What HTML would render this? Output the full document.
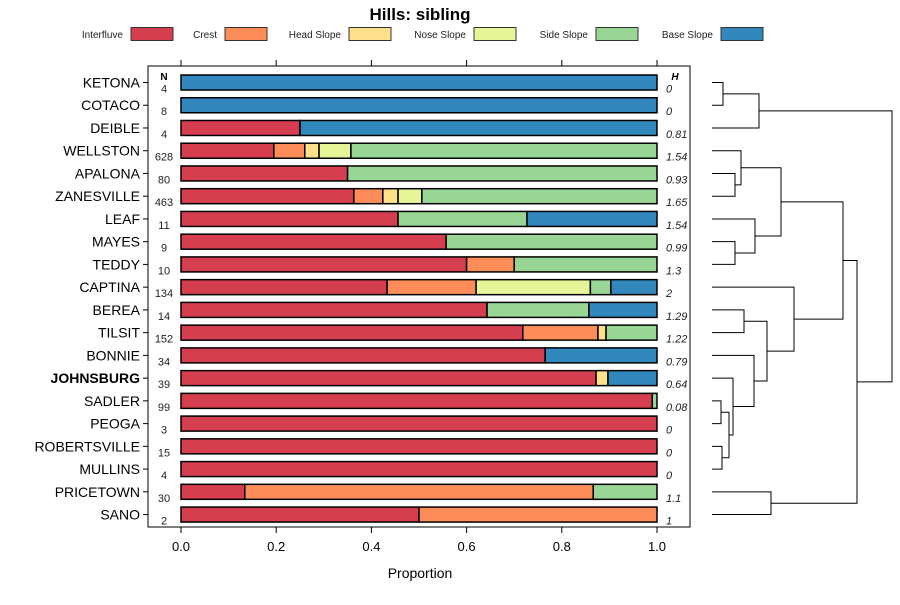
<!DOCTYPE html>
<html><head><meta charset="utf-8"><style>
body{margin:0;background:#fff;}
svg text{font-family:"Liberation Sans",sans-serif;}
</style></head><body>
<svg id="chart" width="900" height="600" xmlns="http://www.w3.org/2000/svg"></svg>
<script>
const categories = ["KETONA","COTACO","DEIBLE","WELLSTON","APALONA","ZANESVILLE","LEAF","MAYES","TEDDY","CAPTINA","BEREA","TILSIT","BONNIE","JOHNSBURG","SADLER","PEOGA","ROBERTSVILLE","MULLINS","PRICETOWN","SANO"];
const seriesNames = ["Interfluve","Crest","Head Slope","Nose Slope","Side Slope","Base Slope"];
const interfluve = [0,0,0.25,0.195,0.35,0.363,0.456,0.557,0.6,0.433,0.643,0.718,0.765,0.872,0.99,1,1,1,0.134,0.5];
const crest      = [0,0,0,0.065,0,0.061,0,0,0.1,0.187,0,0.158,0,0,0,0,0,0,0.732,0.5];
const headSlope  = [0,0,0,0.03,0,0.032,0,0,0,0,0,0.017,0,0.025,0,0,0,0,0,0];
const noseSlope  = [0,0,0,0.067,0,0.05,0,0,0,0.24,0,0,0,0,0,0,0,0,0,0];
const sideSlope  = [0,0,0,0.643,0.65,0.494,0.271,0.443,0.3,0.043,0.214,0.107,0,0,0.01,0,0,0,0.134,0];
const baseSlope  = [1,1,0.75,0,0,0,0.273,0,0,0.097,0.143,0,0.235,0.103,0,0,0,0,0,0];
const nValues = [4,8,4,628,80,463,11,9,10,134,14,152,34,39,99,3,15,4,30,2];
const hValues = ["0","0","0.81","1.54","0.93","1.65","1.54","0.99","1.3","2","1.29","1.22","0.79","0.64","0.08","0","0","0","1.1","1"];
const xTicks = [0,0.2,0.4,0.6,0.8,1.0];
const xTickLabels = ["0.0","0.2","0.4","0.6","0.8","1.0"];
const colors = ["#D53E4F","#FC8D59","#FEE08B","#E6F598","#99D594","#3288BD"];
// dendrogram nodes: [left, right, mergeX]
const upperGroup = [[0,1,723],2,759];
const wellGroup = [3,[4,5,735],741];
const leafGroup = [6,[7,8,735],755];
const group1 = [wellGroup, leafGroup, 781];
const johnsGroup = [13, [[14,15,721],[16,17,722],729], 733];
const bonnieGroup = [12, johnsGroup, 754];
const bereaGroup = [[10,11,744], bonnieGroup, 767];
const captinaGroup = [9, bereaGroup, 794];
const group2 = [group1, captinaGroup, 843];
const group3 = [group2, [18,19,771], 857];
const tree = [upperGroup, group3, 892];

const svg = document.getElementById('chart');
const NS = "http://www.w3.org/2000/svg";
function mk(tag, attrs, parent){const e=document.createElementNS(NS,tag);for(const k in attrs)e.setAttribute(k,attrs[k]);(parent||svg).appendChild(e);return e;}
const X0=181, X1=657;
const xs = v => X0 + v*(X1-X0);
const rowY = i => 82.5 + i*22.74;

const title = mk('text',{x:420,y:20,'text-anchor':'middle','font-size':17,'font-weight':'bold'});


title.textContent="Hills: sibling";

const legX=[123,217,341,466,588,713];
seriesNames.forEach((s,i)=>{
  const g=mk('g',{});
  
  
  const tt=mk('text',{x:legX[i],y:38,'text-anchor':'end','font-size':10,fill:'#222'},g);
  tt.textContent=s;
  mk('rect',{x:legX[i]+8,y:27.5,width:42,height:13,fill:colors[i],stroke:'#333','stroke-width':1},g);
});

const panel=mk('rect',{x:148,y:66,width:542,height:461,fill:'none',stroke:'#000','stroke-width':1});



xTicks.forEach((v,i)=>{
  mk('line',{x1:xs(v),x2:xs(v),y1:527,y2:533,stroke:'#000'});
  mk('line',{x1:xs(v),x2:xs(v),y1:60,y2:66,stroke:'#000'});
  const l=mk('text',{x:xs(v),y:551,'text-anchor':'middle','font-size':13});
  
  
  l.textContent=xTickLabels[i];
});
const xt=mk('text',{x:420,y:578,'text-anchor':'middle','font-size':14});


xt.textContent="Proportion";

const nh=mk('text',{x:164,y:80,'text-anchor':'middle','font-size':10,'font-weight':'bold'});
nh.textContent="N";


const hh=mk('text',{x:675,y:80,'text-anchor':'middle','font-size':10,'font-weight':'bold','font-style':'italic'});
hh.textContent="H";



const series=[interfluve,crest,headSlope,noseSlope,sideSlope,baseSlope];
categories.forEach((c,i)=>{
  const y=rowY(i);
  mk('line',{x1:143,x2:148,y1:y,y2:y,stroke:'#000'});
  const lab=mk('text',{x:140,y:y+5,'text-anchor':'end','font-size':14,'font-weight':c==="JOHNSBURG"?'bold':'normal'});
  
  
  lab.textContent=c;
  const nt=mk('text',{x:164,y:y+10,'text-anchor':'middle','font-size':11,fill:'#222'});
  
  
  nt.textContent=nValues[i];
  const ht=mk('text',{x:666,y:y+10,'font-size':11,'font-style':'italic',fill:'#222'});
  
  
  ht.textContent=hValues[i];
  let acc=0;
  series.forEach((arr,k)=>{
    const v=arr[i];
    if(v<=0) return;
    const r=mk('rect',{x:xs(acc),y:y-7.5,width:xs(acc+v)-xs(acc),height:15,fill:colors[k],stroke:'#000','stroke-width':1.5});
    
    
    acc+=v;
  });
});

const dg=mk('g',{});


function draw(node){
  if(typeof node==='number') return {x:712,y:rowY(node)};
  const a=draw(node[0]), b=draw(node[1]), m=node[2];
  mk('path',{d:`M${a.x},${a.y}H${m}V${b.y}H${b.x}`,fill:'none',stroke:'#000','stroke-width':1},dg);
  return {x:m,y:(a.y+b.y)/2};
}
draw(tree);
</script>
</body></html>
